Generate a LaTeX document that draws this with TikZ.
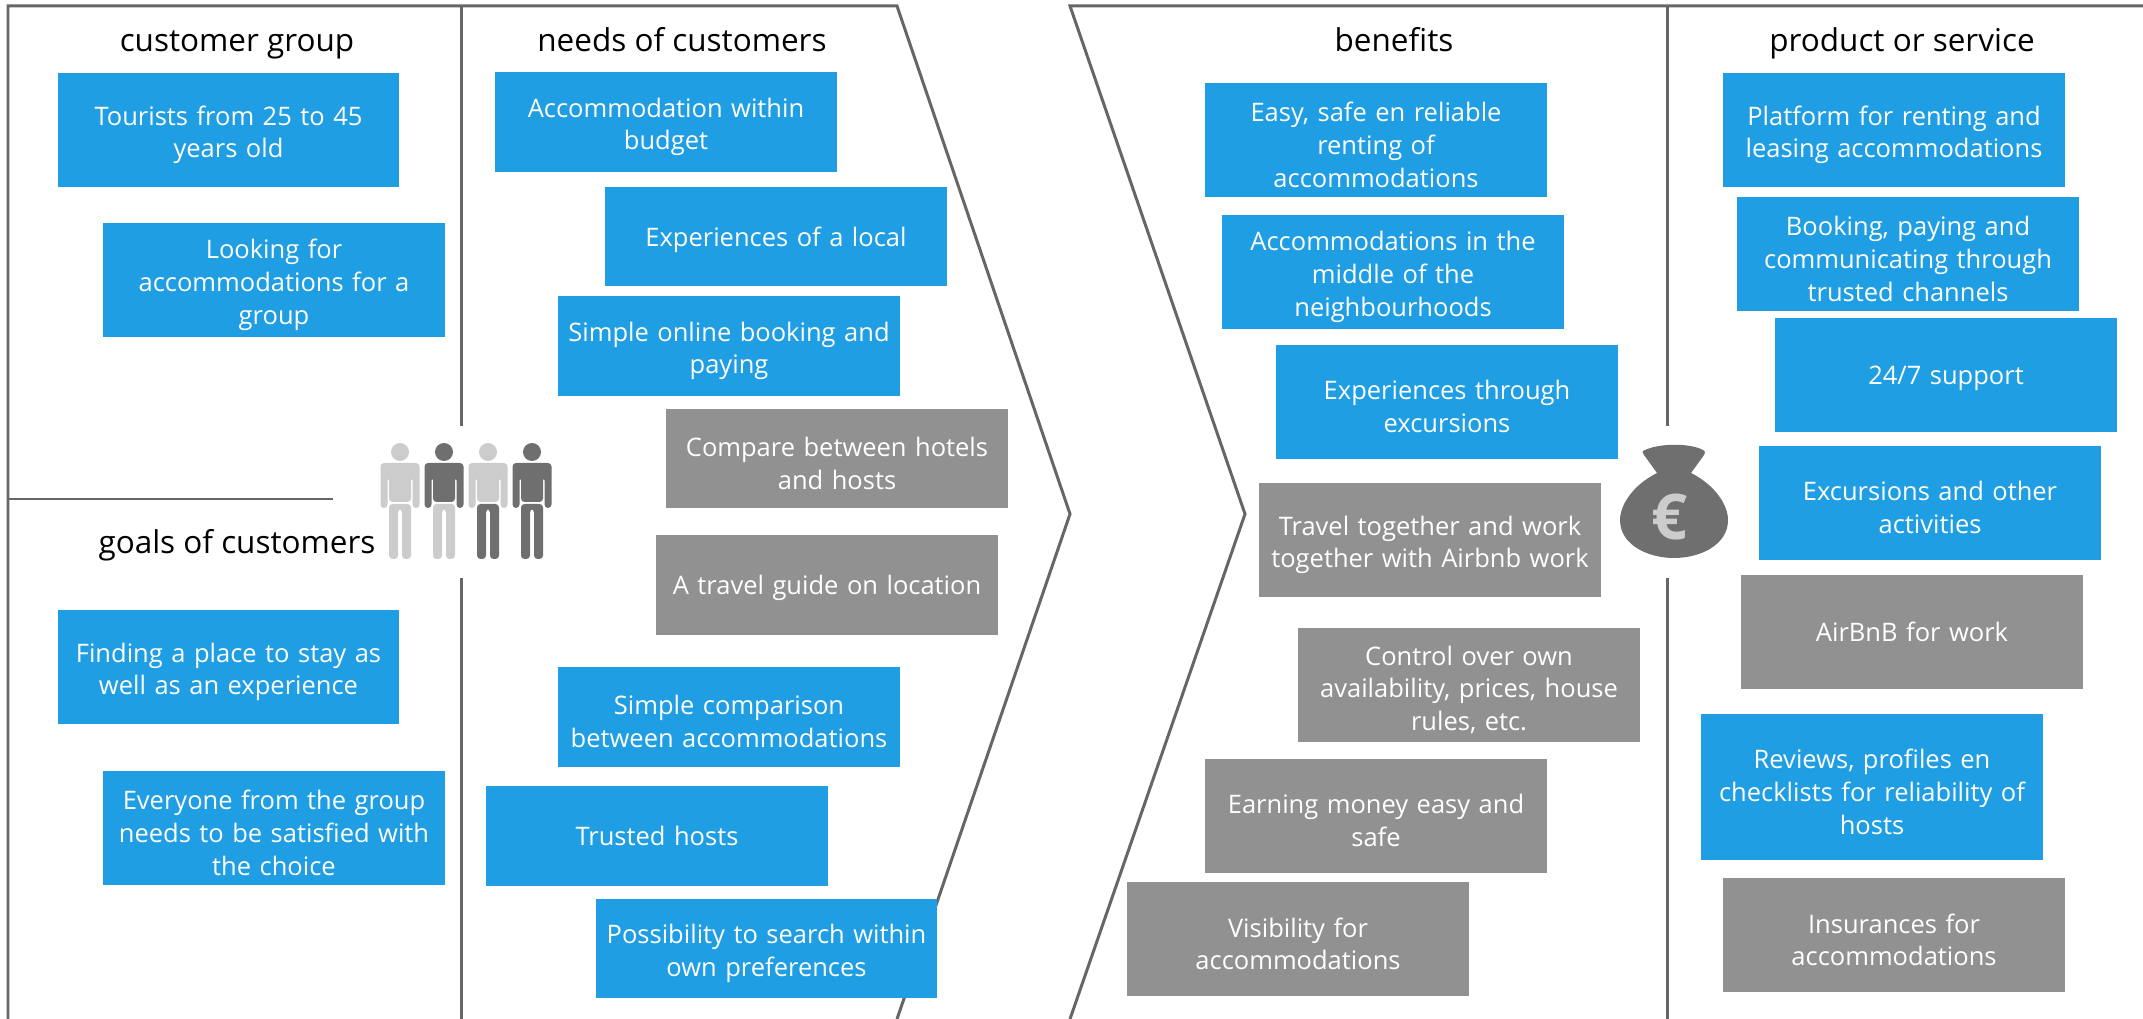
\documentclass[tikz,border=0pt]{standalone}
\usepackage{fontspec}
\setmainfont{Open Sans}
\definecolor{boxblue}{HTML}{1F9EE3}
\definecolor{boxgrey}{HTML}{919191}
\definecolor{framegrey}{HTML}{666666}
\definecolor{icondark}{HTML}{6F6F6F}
\definecolor{iconlight}{HTML}{CCCCCC}
\tikzset{
  frame/.style={draw=framegrey, line width=.85pt},
  headtext/.style={font=\fontsize{8.95}{10}\selectfont, inner sep=0pt, anchor=base},
  card/.style={text=white, minimum height=1.14cm, inner sep=0pt, text width=3.41cm, align=center, font=\fontsize{7.25}{9.3}\selectfont, execute at end node={\par\vspace*{-2.7pt}}},
  bluecard/.style={card, fill=boxblue},
  greycard/.style={card, fill=boxgrey},
  lowcard/.style={minimum height=.99cm}
}
\newcommand{\person}[3]{
\fill [#2] (#1,452) circle [radius=9] ;
\fill [#2, rounded corners=1pt] (#1-19.5,463) -- (#1+19.5,463) -- (#1+19.5,508) -- (#1+12.5,508) -- (#1+12.5,477) -- (#1+11,477) -- (#1+11,502) -- (#1-11,502) -- (#1-11,477) -- (#1-12.5,477) -- (#1-12.5,508) -- (#1-19.5,508) -- cycle ;
\fill [#3, rounded corners=1pt] (#1-11,504) -- (#1+11,504) -- (#1+11,559) -- (#1+2,559) -- (#1+2,509) -- (#1-2,509) -- (#1-2,559) -- (#1-11,559) -- cycle ;
}
\begin{document}
\begin{tikzpicture}[x=.01cm, y=-.01cm]

\useasboundingbox (0,0) rectangle (2143,1019) ;

% frame
\draw [frame] (8,1019) to (8,6) to (897,6) to (1070,514) to (897,1019) ;
\draw [frame] (2143,6) to (1070,6) to (1245,514) to (1070,1019) ;
\draw [frame] (8,499) to (333,499) ;
\draw [frame] (461,6) to (461,426) ;
\draw [frame] (461,578) to (461,1019) ;
\draw [frame] (1667,6) to (1667,426) ;
\draw [frame] (1667,578) to (1667,1019) ;

% headings
\node [headtext] (grouphead) at (237,52) {customer group} ;
\node [headtext] (needshead) at (682,52) {needs of customers} ;
\node [headtext] (goalshead) at (237,554) {goals of customers} ;
\node [headtext] (benefithead) at (1394,52) {benefits} ;
\node [headtext] (producthead) at (1902,52) {product or service} ;

% customer group
\node [bluecard] (group1) at (228.5,130) {Tourists from 25 to 45\\years old} ;
\node [bluecard] (group2) at (274,280) {Looking for\\accommodations for a\\group} ;

% goals
\node [bluecard] (goal1) at (228.5,667) {Finding a place to stay as\\well as an experience} ;
\node [bluecard] (goal2) at (274,828) {Everyone from the group\\needs to be satisfied with\\the choice} ;

% needs
\node [bluecard, lowcard] (need1) at (666,122) {Accommodation within\\budget} ;
\node [bluecard, lowcard] (need2) at (776,236.5) {Experiences of a local} ;
\node [bluecard, lowcard] (need3) at (729,346) {Simple online booking and\\paying} ;
\node [greycard, lowcard] (need4) at (837,458.5) {Compare between hotels\\and hosts} ;
\node [greycard, lowcard] (need5) at (827,585) {A travel guide on location} ;
\node [bluecard, lowcard] (need6) at (729,717) {Simple comparison\\between accommodations} ;
\node [bluecard, lowcard] (need7) at (657,836) {Trusted hosts} ;
\node [bluecard, lowcard] (need8) at (766.5,948.5) {Possibility to search within\\own preferences} ;

% benefits
\node [bluecard] (benefit1) at (1376,140) {Easy, safe en reliable\\renting of\\accommodations} ;
\node [bluecard] (benefit2) at (1393,272) {Accommodations in the\\middle of the\\neighbourhoods} ;
\node [bluecard] (benefit3) at (1447,402) {Experiences through\\excursions} ;
\node [greycard] (benefit4) at (1430,540) {Travel together and work\\together with Airbnb work} ;
\node [greycard] (benefit5) at (1469,685) {Control over own\\availability, prices, house\\rules, etc.} ;
\node [greycard] (benefit6) at (1376,816) {Earning money easy and\\safe} ;
\node [greycard] (benefit7) at (1298,939) {Visibility for\\accommodations} ;

% product or service
\node [bluecard] (product1) at (1894,130) {Platform for renting and\\leasing accommodations} ;
\node [bluecard] (product2) at (1908,254) {Booking, paying and\\communicating through\\trusted channels} ;
\node [bluecard] (product3) at (1946,375) {24/7 support} ;
\node [bluecard] (product4) at (1930,503) {Excursions and other\\activities} ;
\node [greycard] (product5) at (1912,632) {AirBnB for work} ;
\node [bluecard, minimum height=1.45cm] (product6) at (1872,787) {Reviews, profiles en\\checklists for reliability of\\hosts} ;
\node [greycard] (product7) at (1894,935) {Insurances for\\accommodations} ;

% people
\person{400}{iconlight}{iconlight}
\person{444}{icondark}{iconlight}
\person{488}{iconlight}{icondark}
\person{532}{icondark}{icondark}

% money bag
\fill [icondark] (1645,450) .. controls (1660,443) and (1690,443) .. (1703,450) .. controls (1706,452) and (1705,453) .. (1704,455) -- (1691,473) .. controls (1715,485) and (1728,505) .. (1728,520) .. controls (1728,545) and (1700,558) .. (1674,558) .. controls (1648,558) and (1620,545) .. (1620,520) .. controls (1620,505) and (1633,485) .. (1657,473) -- (1644,455) .. controls (1642,452) and (1642,451) .. (1645,450) -- cycle ;
\node [text=iconlight, inner sep=0pt, font=\fontsize{18}{18}\selectfont\bfseries] (euro) at (1670,517) {€} ;

\end{tikzpicture}
\end{document}
